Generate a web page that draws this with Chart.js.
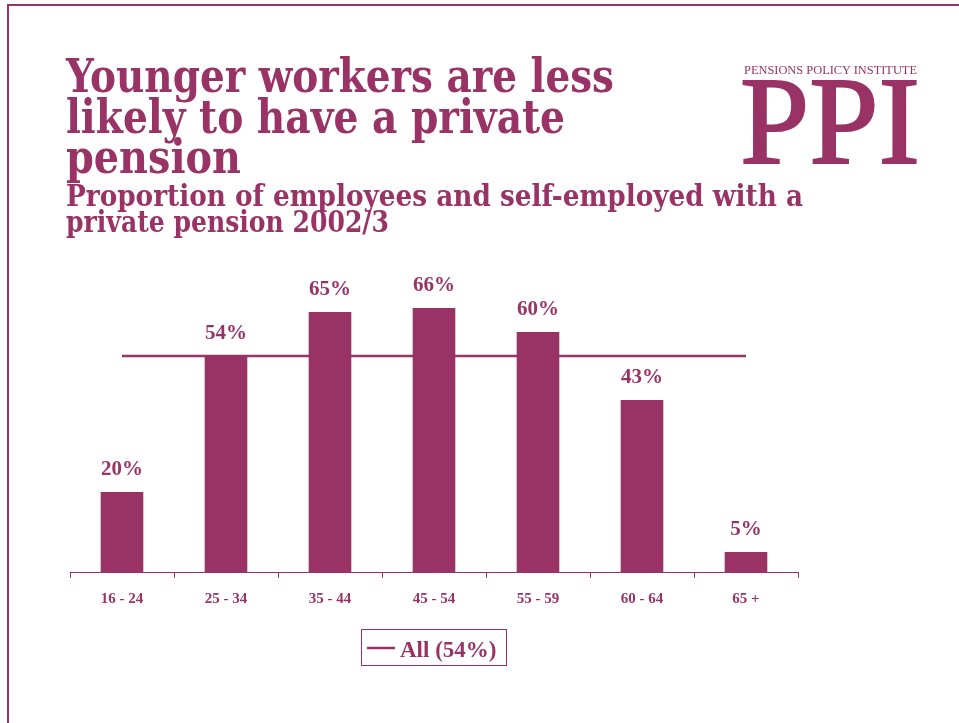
<!DOCTYPE html>
<html>
<head>
<meta charset="utf-8">
<script src="https://cdn.jsdelivr.net/npm/chart.js@4.4.1/dist/chart.umd.min.js"></script>
<style>
  html, body { margin: 0; padding: 0; background: #fff; }
  #wrap { position: relative; width: 959px; height: 723px; overflow: hidden; }
  #chart { position: absolute; left: 0; top: 0; }
  #overlay { position: absolute; left: 0; top: 0; }
  #overlay text { font-family: "Liberation Serif", "Times New Roman", serif; fill: #993366; }
  #overlay .head { font-family: "DejaVu Serif Condensed", "DejaVu Serif", serif; font-weight: bold; }
</style>
</head>
<body>
<div id="wrap">
  <canvas id="chart" width="959" height="723"></canvas>
  <svg id="overlay" width="959" height="723">
    <!-- page frame: top and left rules -->
    <rect x="7" y="4" width="952" height="2" fill="#993366"/>
    <rect x="7" y="4" width="2" height="719" fill="#993366"/>

    <text class="head" x="66" y="92" font-size="47" textLength="548" lengthAdjust="spacingAndGlyphs">Younger workers are less</text>
    <text class="head" x="66" y="133" font-size="47" textLength="499" lengthAdjust="spacingAndGlyphs">likely to have a private</text>
    <text class="head" x="66" y="173" font-size="47" textLength="175" lengthAdjust="spacingAndGlyphs">pension</text>
    <text class="head" x="66" y="206" font-size="29" textLength="737" lengthAdjust="spacingAndGlyphs">Proportion of employees and self-employed with a</text>
    <text class="head" x="66" y="232" font-size="29" textLength="323" lengthAdjust="spacingAndGlyphs">private pension 2002/3</text>

    <!-- logo -->
    <text x="744" y="74" font-size="12" textLength="173" lengthAdjust="spacingAndGlyphs">PENSIONS POLICY INSTITUTE</text>
    <text x="740" y="163" font-size="125" stroke="#993366" stroke-width="2" textLength="180" lengthAdjust="spacingAndGlyphs">PPI</text>

    <!-- legend -->
    <rect x="361.5" y="629.5" width="145" height="36" fill="none" stroke="#993366" stroke-width="1"/>
    <line x1="367" y1="648" x2="395" y2="648" stroke="#993366" stroke-width="2.5"/>
    <text x="400" y="657" font-size="23" font-weight="bold">All (54%)</text>
  </svg>
</div>
<script>
const ageBands = ["16 - 24", "25 - 34", "35 - 44", "45 - 54", "55 - 59", "60 - 64", "65 +"];
const withPension = [20, 54, 65, 66, 60, 43, 5];
const allWorkers = [54, 54, 54, 54, 54, 54, 54];

const PLUM = "#993366";

// percentage labels above each bar
const barLabels = {
  id: "barLabels",
  afterDatasetsDraw(chart) {
    const meta = chart.getDatasetMeta(1);
    const ctx = chart.ctx;
    ctx.save();
    ctx.fillStyle = PLUM;
    ctx.font = "bold 21px 'Liberation Serif', serif";
    ctx.textAlign = "center";
    ctx.textBaseline = "middle";
    meta.data.forEach((bar, i) => {
      ctx.fillText(withPension[i] + "%", bar.x, bar.y - 22);
    });
    ctx.restore();
  },
};

new Chart(document.getElementById("chart").getContext("2d"), {
  data: {
    labels: ageBands,
    datasets: [
      {
        type: "line",
        label: "All",
        data: allWorkers,
        borderColor: PLUM,
        borderWidth: 2.5,
        pointRadius: 0,
        fill: false,
        order: 0,
      },
      {
        type: "bar",
        label: "With private pension",
        data: withPension,
        backgroundColor: PLUM,
        categoryPercentage: 1,
        barPercentage: 0.41,
        order: 1,
      },
    ],
  },
  options: {
    responsive: false,
    animation: false,
    layout: {
      padding: { left: 70, right: 161, top: 172, bottom: 111 },
    },
    plugins: {
      legend: { display: false },
      tooltip: { enabled: false },
    },
    scales: {
      x: {
        offset: true,
        afterFit: (scale) => {
          scale.height = 40;
        },
        grid: {
          drawOnChartArea: false,
          drawTicks: true,
          tickLength: 6,
          color: PLUM,
          lineWidth: 1,
        },
        border: { display: true, color: PLUM, width: 1 },
        ticks: {
          color: PLUM,
          padding: 12,
          font: { family: "'Liberation Serif', serif", size: 15, weight: "bold" },
        },
      },
      y: {
        display: false,
        min: 0,
        max: 100,
      },
    },
  },
  plugins: [barLabels],
});
</script>
</body>
</html>
